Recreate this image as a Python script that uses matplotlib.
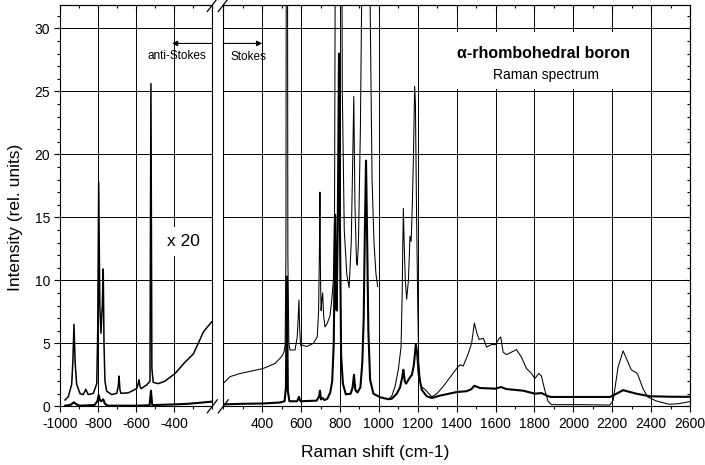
import numpy as np
import matplotlib.pyplot as plt
from matplotlib.lines import Line2D
from matplotlib.patches import Rectangle
from matplotlib.ticker import MultipleLocator

plt.rcParams['font.family'] = ['Liberation Sans', 'DejaVu Sans']

# anti-Stokes side (negative shifts)
as_x_raw = [-975, -945, -935, -928, -920, -900, -820, -805, -798, -792, -786, -774, -765, -750,
            -600, -530, -523, -516, -505, -400, -326, -203]
as_y_raw = [0.05, 0.12, 0.25, 0.32, 0.2, 0.05, 0.1, 0.4, 0.9, 0.5, 0.4, 0.55, 0.2, 0.05,
            0.05, 0.08, 1.24, 0.1, 0.1, 0.15, 0.2, 0.37]

as_x_x20 = [-975, -958, -940, -934, -928, -922, -914, -896, -879, -866, -853, -826, -808, -803,
            -798, -792, -786, -779, -774, -770, -765, -756, -729, -703, -695, -691, -686, -681,
            -642, -598, -590, -586, -581, -575, -545, -528, -523, -518, -511, -484, -449, -396,
            -344, -300, -274, -247, -220, -203]
as_y_x20 = [0.5, 0.76, 1.75, 3.5, 6.5, 3.5, 1.75, 1.0, 0.93, 1.35, 0.93, 1.03, 1.8, 6.0,
            17.8, 8.0, 5.8, 8.0, 10.9, 5.0, 2.0, 1.2, 0.93, 1.03, 1.6, 2.4, 1.3, 1.03,
            1.07, 1.4, 1.8, 2.1, 1.6, 1.4, 1.7, 2.0, 25.6, 3.0, 1.9, 1.8, 2.0, 2.6,
            3.5, 4.15, 5.0, 5.9, 6.4, 6.7]

# Stokes side
st_x_raw = [200, 300, 400, 490, 515, 522, 527, 532, 540, 580, 589, 597, 680, 693, 697, 702, 711,
            720, 735, 750, 760, 768, 775, 779, 783, 789, 795, 800, 806, 815, 830, 855, 865, 872,
            879, 890, 905, 915, 922, 928, 934, 940, 946, 955, 972, 1006, 1049, 1066, 1092, 1109,
            1120, 1126, 1133, 1140, 1160, 1170, 1180, 1190, 1197, 1205, 1221, 1246, 1272, 1315,
            1400, 1451, 1475, 1491, 1520, 1600, 1627, 1656, 1742, 1802, 1836, 1870, 1887, 2032,
            2188, 2222, 2256, 2324, 2392, 2493, 2600]
st_y_raw = [0.15, 0.2, 0.22, 0.3, 0.4, 1.5, 10.3, 1.2, 0.4, 0.4, 0.75, 0.4, 0.45, 0.8, 1.24, 0.55,
            0.65, 0.5, 0.6, 1.1, 2.0, 5.0, 15.2, 9.0, 7.6, 15.0, 28.0, 14.0, 4.0, 1.8, 0.95, 1.0,
            1.5, 2.5, 1.3, 1.1, 1.5, 3.5, 7.0, 14.0, 19.5, 13.0, 6.0, 2.1, 1.0, 0.72, 0.56, 0.6,
            1.0, 1.5, 2.3, 2.9, 2.0, 1.8, 2.3, 2.5, 3.3, 4.9, 4.2, 2.5, 1.3, 0.8, 0.66, 0.85,
            1.13, 1.2, 1.35, 1.63, 1.45, 1.4, 1.53, 1.37, 1.24, 1.0, 1.05, 0.8, 0.74, 0.74,
            0.74, 1.0, 1.28, 1.0, 0.8, 0.76, 0.75]

# x20 trace, first scan (200-994)
st_x_x20a = [200, 234, 286, 354, 405, 466, 500, 512, 518, 522, 527, 532, 537, 543, 569, 580, 585,
             589, 593, 598, 603, 629, 663, 683, 690, 694, 697, 700, 703, 707, 711, 716, 723, 735,
             749, 758, 766, 772, 780, 795, 805, 812, 822, 835, 847, 858, 866, 871, 877, 885, 889,
             895, 905, 912, 925, 934, 945, 955, 965, 975, 985, 994]
st_y_x20a = [1.82, 2.35, 2.6, 2.83, 3.0, 3.4, 3.94, 4.3, 4.9, 12.0, 80.0, 12.0, 5.0, 4.47, 4.47,
             5.5, 7.0, 8.44, 6.0, 4.8, 4.87, 4.74, 5.0, 5.5, 7.5, 12.0, 17.0, 10.0, 7.6, 8.5, 9.0,
             7.2, 6.3, 6.6, 7.2, 8.5, 10.0, 15.3, 60.0, 120.0, 60.0, 25.0, 14.0, 10.5, 9.4, 13.0,
             20.0, 24.6, 16.0, 11.5, 11.2, 13.0, 22.0, 33.0, 80.0, 150.0, 80.0, 32.0, 18.0, 13.0,
             10.5, 9.5]

# x20 trace, second scan (1050-2600)
st_x_x20b = [1050, 1066, 1083, 1100, 1114, 1120, 1123, 1126, 1130, 1136, 1143, 1152, 1160, 1166,
             1172, 1178, 1184, 1188, 1194, 1200, 1205, 1215, 1240, 1272, 1298, 1332, 1366, 1400,
             1417, 1434, 1460, 1477, 1491, 1506, 1516, 1537, 1554, 1580, 1600, 1619, 1627, 1639,
             1656, 1682, 1708, 1733, 1759, 1785, 1802, 1822, 1836, 1853, 1870, 1887, 2032, 2188,
             2205, 2230, 2256, 2281, 2298, 2324, 2332, 2358, 2383, 2425, 2493, 2544, 2600]
st_y_x20b = [0.58, 0.8, 1.56, 2.9, 4.7, 9.0, 12.7, 15.7, 13.0, 10.0, 8.5, 10.0, 13.5, 13.1,
             16.0, 20.0, 25.4, 24.0, 15.0, 8.0, 3.5, 1.6, 1.3, 0.75, 1.0, 1.6, 2.3, 3.0,
             3.3, 3.2, 4.2, 5.0, 6.6, 5.7, 5.3, 5.4, 4.7, 4.9, 4.9, 5.4, 5.5, 4.3,
             4.1, 4.3, 4.5, 3.9, 3.0, 2.6, 2.2, 2.6, 2.4, 1.3, 0.4, 0.13, 0.13, 0.1,
             0.48, 3.1, 4.4, 3.5, 2.9, 2.66, 2.5, 1.4, 0.74, 0.43, 0.16, 0.21, 0.38]

left_ticks = [-1000, -800, -600, -400]
right_ticks = [400, 600, 800, 1000, 1200, 1400, 1600, 1800, 2000, 2200, 2400, 2600]
y_ticks = [0, 5, 10, 15, 20, 25, 30]

W, H = 705, 465
fig = plt.figure(figsize=(W / 100, H / 100), dpi=100)
bot = (H - 406.3) / H
hgt = (406.3 - 5) / H
ax1 = fig.add_axes([60.3 / W, bot, 152 / W, hgt])
ax2 = fig.add_axes([223.3 / W, bot, 466.7 / W, hgt])

thick = dict(color='black', lw=1.5, zorder=3)
thin = dict(color='black', lw=0.75, zorder=3)

ax1.plot(as_x_x20, as_y_x20, color='black', lw=1.1, zorder=3)
ax1.plot(as_x_raw, as_y_raw, **thick)
ax2.plot(st_x_x20a, st_y_x20a, **thin)
ax2.plot(st_x_x20b, st_y_x20b, **thin)
ax2.plot(st_x_raw, st_y_raw, **thick)

ax1.set_xlim(-1000, -200)
ax2.set_xlim(200, 2600)

for ax in (ax1, ax2):
    ax.set_ylim(0, 31.85)
    ax.set_facecolor('white')
    for s in ax.spines.values():
        s.set_linewidth(0.8)
    ax.grid(True, which='major', color='black', lw=0.7, zorder=1)
    ax.xaxis.set_minor_locator(MultipleLocator(100))
    ax.yaxis.set_minor_locator(MultipleLocator(1))
    ax.set_yticks(y_ticks)
    ax.tick_params(axis='x', which='major', direction='out', length=4.5, width=0.8,
                   labelsize=10, pad=3.5)
    ax.tick_params(axis='x', which='minor', direction='out', length=2.5, width=0.8)
    # mirrored top axis with inward ticks
    top = ax.secondary_xaxis('top')
    top.xaxis.set_major_locator(MultipleLocator(200))
    top.xaxis.set_minor_locator(MultipleLocator(100))
    top.tick_params(which='major', direction='in', length=4.5, width=0.8, labelsize=0,
                    labeltop=False)
    top.tick_params(which='minor', direction='in', length=2.5, width=0.8)
    top.spines['top'].set_linewidth(0.8)

ax1.set_xticks(left_ticks)
ax1.set_xticklabels([str(t) for t in left_ticks])
ax2.set_xticks(right_ticks)
ax2.set_xticklabels([str(t) for t in right_ticks])

ax1.tick_params(axis='y', which='major', direction='out', length=4.5, width=0.8,
                labelsize=10, pad=3)
ax1.tick_params(axis='y', which='minor', direction='out', length=2.5, width=0.8)
ax2.tick_params(axis='y', which='both', left=False, labelleft=False)
rax = ax2.secondary_yaxis('right')
rax.yaxis.set_major_locator(MultipleLocator(5))
rax.yaxis.set_minor_locator(MultipleLocator(1))
rax.tick_params(which='major', direction='in', length=4.5, width=0.8, labelright=False)
rax.tick_params(which='minor', direction='in', length=2.5, width=0.8)

# break marks around the gap
to_fig = lambda px, py: (px / W, 1 - py / H)
for xc in (212.3, 223.3):
    for yc in (406.3, 5):
        x0, y0 = to_fig(xc - 5, yc + 6.5)
        x1, y1 = to_fig(xc + 5, yc - 6.5)
        fig.add_artist(Line2D([x0, x1], [y0, y1], color='black', lw=0.9))

# Stokes / anti-Stokes arrows
arr = dict(arrowstyle='-|>', color='black', lw=0.8, mutation_scale=8, shrinkA=0, shrinkB=0)
ax1.annotate('', xy=(-412, 28.8), xytext=(-200, 28.8), arrowprops=arr,
             annotation_clip=False, zorder=5)
ax2.annotate('', xy=(400, 28.8), xytext=(200, 28.8), arrowprops=arr,
             annotation_clip=False, zorder=5)
ax1.text(-386, 27.8, 'anti-Stokes', fontsize=8.5, ha='center', va='center', zorder=5)
ax2.text(327, 27.7, 'Stokes', fontsize=8.5, ha='center', va='center', zorder=5)

ax1.text(-352, 13.05, 'x 20', fontsize=12.5, ha='center', va='center', zorder=5,
         bbox=dict(facecolor='white', edgecolor='none', pad=5))

ax2.add_patch(Rectangle((1330, 25.15), 1055, 4.55, facecolor='white', edgecolor='none', zorder=2))
ax2.text(1845, 28.0, 'α-rhombohedral boron', fontsize=11.5, fontweight='bold',
         ha='center', va='center', zorder=5)
ax2.text(1858, 26.3, 'Raman spectrum', fontsize=10, ha='center', va='center', zorder=5)

fig.text(375.5 / W, 1 - 452 / H, 'Raman shift (cm-1)', fontsize=12.5, ha='center', va='center')
fig.text(15.5 / W, 1 - 217 / H, 'Intensity (rel. units)', fontsize=12.5, ha='center',
         va='center', rotation=90)

fig.savefig('out.png', dpi=100)
